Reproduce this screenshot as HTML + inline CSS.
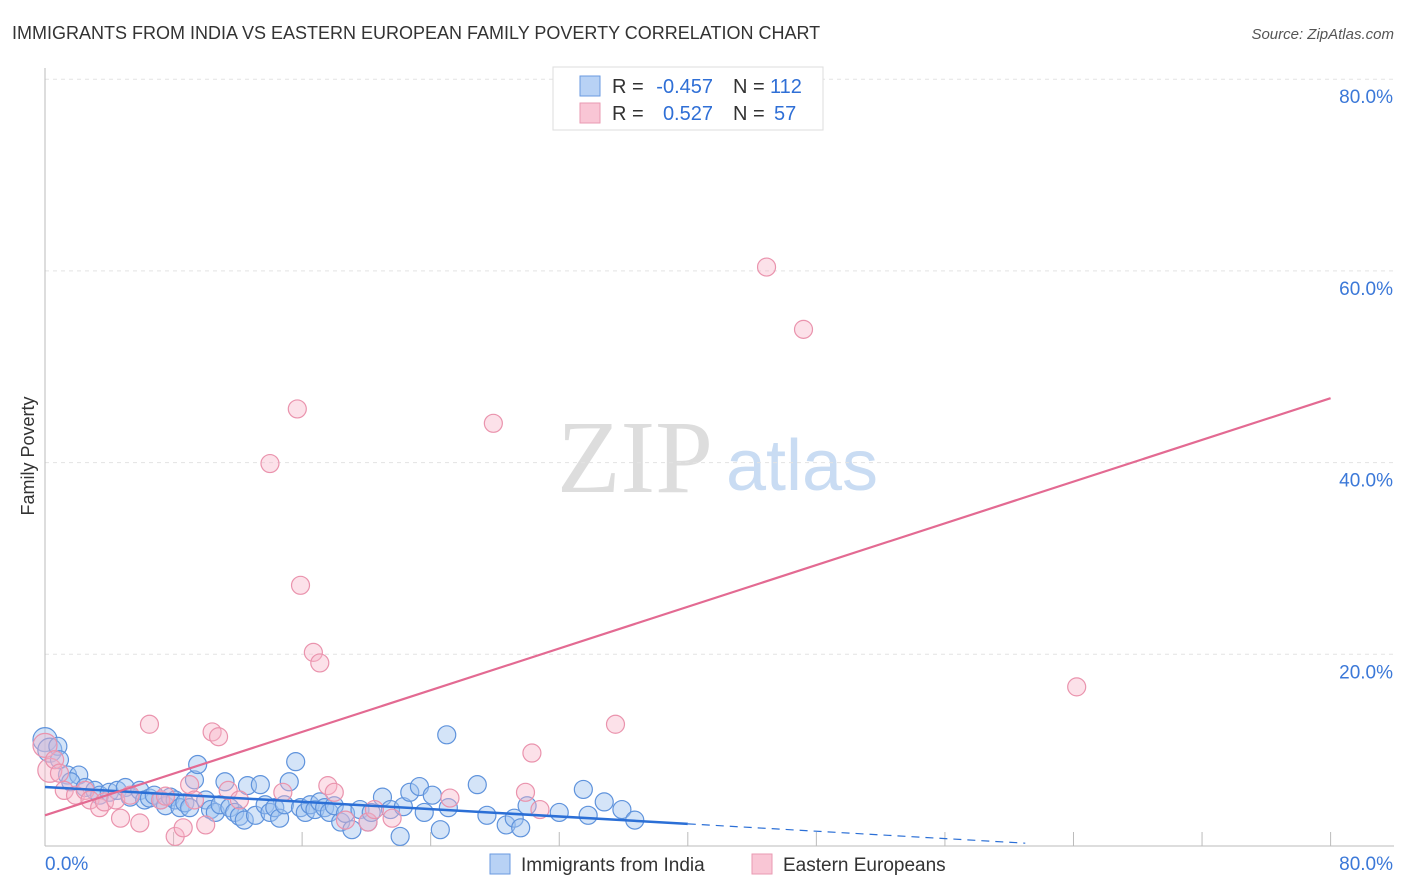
<!DOCTYPE html>
<html><head><meta charset="utf-8"><style>
body{margin:0;background:#fff;font-family:"Liberation Sans",sans-serif}
#wrap{position:relative;width:1406px;height:892px;overflow:hidden}
</style></head><body>
<div id="wrap">
<svg id="svg" width="1406" height="892" xmlns="http://www.w3.org/2000/svg">
<text x="12" y="39" font-size="18" fill="#333">IMMIGRANTS FROM INDIA VS EASTERN EUROPEAN FAMILY POVERTY CORRELATION CHART</text>
<text x="1394" y="39" font-size="15" fill="#555" font-style="italic" text-anchor="end">Source: ZipAtlas.com</text>
<text x="34" y="456" font-size="18" fill="#333" text-anchor="middle" transform="rotate(-90 34 456)">Family Poverty</text>
<g><text x="635" y="492" font-size="104" fill="#ddd" text-anchor="middle" font-family="Liberation Serif,serif">ZIP</text><text x="802" y="490" font-size="72" fill="#c9dcf3" text-anchor="middle">atlas</text></g>
<g id="grid"></g><g id="marks"></g>
<g font-size="20" fill="#333">
<rect x="553" y="67" width="270" height="63" fill="#fff" stroke="#ddd"/>
<rect x="580" y="76" width="20" height="20" fill="#b8d2f5" stroke="#6a9ae0"/>
<rect x="580" y="103" width="20" height="20" fill="#f9c6d5" stroke="#e99ab2"/>
<text x="612" y="93">R =</text><text x="713" y="93" fill="#2f6fd6" text-anchor="end">-0.457</text>
<text x="733" y="93">N =</text><text x="770" y="93" fill="#2f6fd6">112</text>
<text x="612" y="120">R =</text><text x="713" y="120" fill="#2f6fd6" text-anchor="end">0.527</text>
<text x="733" y="120">N =</text><text x="774" y="120" fill="#2f6fd6">57</text>
</g>
<g>
<rect x="490" y="854" width="20" height="20" fill="#b8d2f5" stroke="#6a9ae0"/>
<text x="521" y="871" font-size="19" fill="#333">Immigrants from India</text>
<rect x="752" y="854" width="20" height="20" fill="#f9c6d5" stroke="#e99ab2"/>
<text x="783" y="871" font-size="19" fill="#333">Eastern Europeans</text>
</g>
</svg></div>
<script>
const blueX=[0,0.3,0.8,0.9,1.4,2.1,1.6,2.5,3.1,3.4,4.0,4.5,5.0,5.3,5.9,6.2,6.5,6.8,7.2,7.5,7.8,8.1,8.4,8.7,9.0,9.3,9.5,10.0,10.3,10.6,10.9,11.2,11.5,11.8,12.1,12.4,12.6,13.1,13.4,13.7,14.0,14.3,14.6,14.9,15.2,15.6,15.9,16.2,16.5,16.8,17.1,17.4,17.7,18.0,18.4,18.7,19.1,19.6,20.1,20.3,21.0,21.5,22.1,22.3,22.7,23.3,23.6,24.1,24.6,25.0,25.1,26.9,27.5,28.7,29.2,29.6,30.0,32.0,33.5,33.8,34.8,35.9,36.7];
const blueY=[11.1,10.0,10.4,9.0,7.4,7.4,6.7,6.1,5.8,5.3,5.6,5.8,6.1,5.1,5.8,4.8,5.0,5.3,4.8,4.2,5.1,4.8,4.0,4.5,4.0,6.9,8.5,4.8,3.8,3.5,4.3,6.7,4.0,3.5,3.1,2.7,6.3,3.2,6.4,4.3,3.5,4.0,2.9,4.3,6.7,8.8,4.0,3.5,4.3,3.8,4.6,4.0,3.5,4.2,2.5,3.4,1.7,3.8,2.5,3.5,5.1,3.8,1.0,4.1,5.6,6.2,3.5,5.3,1.7,11.6,4.0,6.4,3.2,2.2,2.9,1.9,4.2,3.5,5.9,3.2,4.6,3.8,2.7];
const pinkX=[0,0.3,0.6,0.9,1.2,1.9,2.5,2.8,3.4,3.7,4.4,4.7,5.3,5.9,6.5,7.2,7.5,8.1,8.6,9.0,9.3,10.0,10.4,10.8,11.4,12.1,14.0,14.8,15.7,15.9,16.7,17.1,17.6,18.0,18.7,20.1,20.5,21.6,25.2,27.9,29.9,30.3,30.8,35.5,44.9,47.2,64.2];
const pinkY=[10.5,7.9,9.0,7.6,5.8,5.3,5.8,4.8,4.0,4.6,4.8,2.9,5.3,2.4,12.7,4.8,5.2,1.0,1.9,6.4,4.8,2.2,11.9,11.4,5.8,4.8,39.9,5.6,45.6,27.2,20.2,19.1,6.3,5.6,2.7,2.5,3.8,2.9,5.0,44.1,5.6,9.7,3.8,12.7,60.4,53.9,16.6];
const yTicks=[20,40,60,80];
const xTicks=[8,16,24,32,40,48,56,64,72,80];
const blueLine=[6.15,-0.096];
const pinkLine=[3.2,0.544];
const NS='http://www.w3.org/2000/svg';
const sx=v=>45+v*16.07, sy=v=>846-v*9.585;
const grid=document.getElementById('grid'), marks=document.getElementById('marks');
function mk(tag,attrs,parent){const e=document.createElementNS(NS,tag);for(const k in attrs)e.setAttribute(k,attrs[k]);parent.appendChild(e);return e;}
yTicks.forEach(t=>{
 const l=mk('line',{x1:45,x2:1394,y1:sy(t),y2:sy(t),stroke:'#e3e3e3','stroke-dasharray':'4,4'},grid);
 
 
 const tx=mk('text',{x:1393,y:sy(t)+24,'font-size':19,fill:'#3b78d8','text-anchor':'end'},grid);
 tx.textContent=t.toFixed(1)+'%';
 
 
});
const ax=mk('line',{x1:45,x2:45,y1:68,y2:846,stroke:'#bbb'},grid);


const bx=mk('line',{x1:45,x2:1394,y1:846,y2:846,stroke:'#bbb'},grid);


xTicks.forEach(v=>{const t=mk('line',{x1:sx(v),x2:sx(v),y1:832,y2:846,stroke:'#bbb'},grid);
 
 });
[[0,'0.0%','start',45],[80,'80.0%','end',1393]].forEach(a=>{const t=mk('text',{x:a[3],y:870,'font-size':19,fill:'#3b78d8','text-anchor':a[2]},grid);t.textContent=a[1];
 
 });
function pts(X,Y,fill,stroke,name){X.forEach((x,i)=>{const c=mk('circle',{cx:sx(x),cy:sy(Y[i]),r:(x<0.5?12:9),fill:fill,stroke:stroke,'stroke-width':1.2},marks);
 
 });}
pts(blueX,blueY,'rgba(160,196,240,0.45)','#5f93dc','india-point');
pts(pinkX,pinkY,'rgba(248,180,200,0.40)','#ea93ad','eastern-european-point');
let l1=mk('line',{x1:sx(0),y1:sy(blueLine[0]),x2:sx(40),y2:sy(blueLine[0]+blueLine[1]*40),stroke:'#2b6fd6','stroke-width':2.5},marks);


let l2=mk('line',{x1:sx(40),y1:sy(blueLine[0]+blueLine[1]*40),x2:sx(61),y2:sy(blueLine[0]+blueLine[1]*61),stroke:'#2b6fd6','stroke-width':1.2,'stroke-dasharray':'8,6'},marks);


let l3=mk('line',{x1:sx(0),y1:sy(pinkLine[0]),x2:sx(80),y2:sy(pinkLine[0]+pinkLine[1]*80),stroke:'#e36a92','stroke-width':2.2},marks);


</script>
</body></html>
